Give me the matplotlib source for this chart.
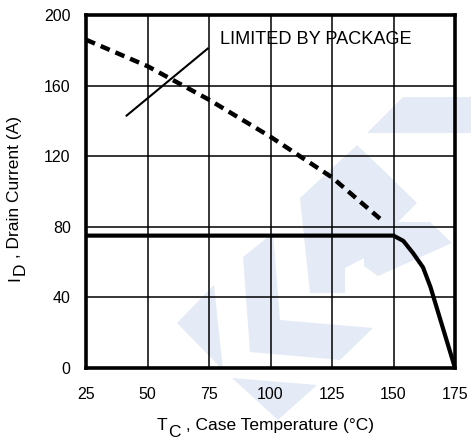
import matplotlib
matplotlib.use("Agg")
import matplotlib.pyplot as plt
from matplotlib.patches import Polygon

plt.rcParams["font.family"] = ["Liberation Sans", "DejaVu Sans"]

# Package-limited current (dashed)
tc_pkg = [25, 50, 75, 100, 125, 145]
id_pkg = [186, 171, 152, 131, 108, 84]

# Silicon-limited current (solid)
tc_si = [25, 150, 154, 158, 162, 165, 170, 175]
id_si = [75, 75, 72, 65, 57, 46, 23, 0]

# Pointer line for the annotation
pointer_x = [41.5, 74.5]
pointer_y = [143, 181]

x_ticks = [25, 50, 75, 100, 125, 150, 175]
y_ticks = [0, 40, 80, 120, 160, 200]

# Faint logo behind the plot, in pixel coordinates of a 471x441 canvas
logo_shapes = [
    [(367, 133), (403, 97), (471, 97), (471, 133)],
    [(243, 257), (273, 233), (280, 320), (373, 328), (340, 360), (250, 352)],
    [(300, 198), (357, 145), (380, 167), (417, 203), (398, 222), (430, 222),
     (452, 243), (378, 276), (364, 266), (364, 258), (345, 268), (345, 293),
     (310, 293)],
    [(177, 323), (214, 285), (223, 370)],
    [(232, 378), (317, 385), (278, 420)],
]

W, H = 471, 441
fig = plt.figure(figsize=(W / 100, H / 100), dpi=100)
fig.patch.set_facecolor("white")

for shape in logo_shapes:
    pts = [(x / W, 1 - y / H) for x, y in shape]
    fig.patches.append(Polygon(pts, closed=True, transform=fig.transFigure,
                               facecolor="#e4eaf6", edgecolor="none", zorder=-1))

ax = fig.add_axes([86 / W, 1 - 368 / H, 369 / W, 353 / H])
ax.set_facecolor("none")

ax.plot(tc_pkg, id_pkg, color="black", lw=3.2, linestyle=(0, (2.2, 1.4)),
        solid_capstyle="butt", zorder=3)
ax.plot(tc_si, id_si, color="black", lw=3.0, zorder=3)
ax.plot(pointer_x, pointer_y, color="black", lw=1.5, zorder=3)
ax.text(79.5, 186, "LIMITED BY PACKAGE", fontsize=13.1, va="center", ha="left")

ax.set_xlim(25, 175)
ax.set_ylim(0, 200)
ax.set_xticks(x_ticks)
ax.set_yticks(y_ticks)
ax.tick_params(length=0, labelsize=11.5)
ax.tick_params(axis="x", pad=14)
ax.tick_params(axis="y", pad=11)
ax.grid(True, color="black", lw=1.1)
ax.set_axisbelow(True)
for spine in ax.spines.values():
    spine.set_linewidth(2.6)
    spine.set_zorder(4)

# Axis titles with full-size lowered subscripts
lab = dict(fontsize=12.5)
t_main = fig.text(157 / W, 1 - 430 / H, "T", ha="left", va="baseline", **lab)
t_sub = ax.annotate("C", xy=(1, 0), xycoords=t_main, xytext=(0.5, -5),
                    textcoords="offset points", ha="left", va="bottom", **lab)
ax.annotate(" , Case Temperature (°C)", xy=(1, 0), xycoords=(t_sub, t_main),
            xytext=(0, 0), textcoords="offset points", ha="left", va="bottom", **lab)

i_main = fig.text(7 / W, 1 - 281 / H, "I", rotation=90, ha="left", va="bottom", **lab)
i_sub = ax.annotate("D", xy=(1, 1), xycoords=i_main, xytext=(4, 0.5),
                    textcoords="offset points", rotation=90,
                    ha="right", va="bottom", **lab)
ax.annotate(" , Drain Current (A)", xy=(0, 1), xycoords=(i_main, i_sub),
            xytext=(0, 0), textcoords="offset points", rotation=90,
            ha="left", va="bottom", **lab)

fig.savefig("out.png", dpi=100)
